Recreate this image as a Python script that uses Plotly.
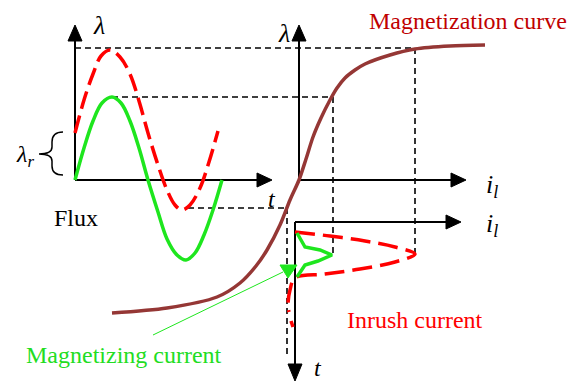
import plotly.graph_objects as go

# the sketch is laid out in picture pixels: x to the right, y downward
W, H = 579, 383

# flux curves (left panel)
flux_x = [75, 84, 93, 102, 112, 121, 130, 139, 148, 158, 167, 177, 186, 195, 204, 213, 222]
flux_y = [180, 148, 121, 103, 97, 103, 121, 148, 180, 212, 239, 255, 260, 253, 235, 210, 180]
inrush_flux_x = [75, 84, 93, 101, 110, 120, 130, 139, 148, 158, 167, 175, 182, 190, 200, 209, 218]
inrush_flux_y = [133, 100, 74, 56, 50, 57, 74, 101, 133, 165, 190, 205, 210, 205, 188, 162, 131]

# magnetization curve (lambda vs i)
mag_x = [112, 167, 217, 240, 256, 267, 280, 290, 299, 306, 313, 321, 330, 337, 345, 355, 365, 390, 415, 450, 485]
mag_y = [313, 308, 297, 283, 266, 250, 225, 200, 180, 159, 137, 118, 100, 88, 78, 70, 64, 55, 49, 46, 45]

# currents (lower panel, time runs downward)
inrush_x = [295, 330, 365, 395, 415, 395, 360, 325, 295, 290, 288, 289]
inrush_y = [232, 236, 241, 247, 254, 262, 269, 274, 278, 290, 305, 312]
inrush_tail_x = [291, 293]
inrush_tail_y = [321, 327]
magn_x = [297, 305, 320, 332, 318, 305, 297]
magn_y = [233, 247, 250, 255, 261, 265, 277]

BLACK = "black"
RED = "#FF0000"
GREEN = "#1EE61E"
BROWN = "#953735"
SERIF = "Liberation Serif"

fig = go.Figure()

fig.add_trace(go.Scatter(x=mag_x, y=mag_y, mode="lines", line=dict(color=BROWN, width=3.5, shape="spline", smoothing=0.8)))
fig.add_trace(go.Scatter(x=flux_x, y=flux_y, mode="lines", line=dict(color=GREEN, width=3.5, shape="spline")))
fig.add_trace(go.Scatter(x=inrush_flux_x, y=inrush_flux_y, mode="lines",
                         line=dict(color=RED, width=3.5, shape="spline", dash="18px,7px")))
fig.add_trace(go.Scatter(x=inrush_x, y=inrush_y, mode="lines",
                         line=dict(color=RED, width=3.5, shape="spline", dash="20px,8px")))
fig.add_trace(go.Scatter(x=inrush_tail_x, y=inrush_tail_y, mode="lines", line=dict(color=RED, width=3.5)))
fig.add_trace(go.Scatter(x=magn_x, y=magn_y, mode="lines", line=dict(color=GREEN, width=3.5)))

shapes = []

def seg(x0, y0, x1, y1, color=BLACK, width=2, dash="solid"):
    shapes.append(dict(type="line", x0=x0, y0=y0, x1=x1, y1=y1, layer="below",
                       line=dict(color=color, width=width, dash=dash)))

def tri(pts, color=BLACK):
    p = "M " + " L ".join(f"{a} {b}" for a, b in pts) + " Z"
    shapes.append(dict(type="path", path=p, fillcolor=color, line=dict(color=color, width=1)))

# axes
seg(75, 180, 75, 40)
seg(75, 180, 258, 180)
tri([(75, 25), (68, 41), (82, 41)])
tri([(272, 180), (257, 173), (257, 187)])

seg(299, 182, 299, 40)
seg(298, 180, 452, 180)
tri([(299, 25), (292, 41), (306, 41)])
tri([(466, 180), (451, 173), (451, 187)])

seg(295, 222, 448, 222)
seg(295, 222, 295, 364)
tri([(461, 222), (446, 215), (446, 229)])
tri([(295, 381), (288, 364), (302, 364)])

# projection lines
dsh = "6px,4px"
seg(75, 48, 415, 48, width=1.6, dash=dsh)
seg(112, 97, 333, 97, width=1.6, dash=dsh)
seg(333, 97, 333, 256, width=1.6, dash=dsh)
seg(415, 48, 415, 253, width=1.6, dash=dsh)
seg(188, 208, 287, 208, width=1.6, dash=dsh)
seg(287, 208, 287, 356, width=1.6, dash=dsh)

# pointer for the magnetizing current
seg(283, 272, 153, 335, color=GREEN, width=1)
tri([(280, 265), (297, 265), (288, 278)], color=GREEN)

# brace for lambda_r
shapes.append(dict(type="path",
                   path="M 63 132 Q 52 132 52 142 L 52 147 Q 52 154 39 154 Q 52 154 52 161 L 52 166 Q 52 175 63 175",
                   line=dict(color=BLACK, width=1.5)))

def label(x, y, text, size=20, color=BLACK):
    fig.add_annotation(x=x, y=y, text=text, showarrow=False, xanchor="center", yanchor="middle",
                       font=dict(family=SERIF, size=size, color=color))

label(99, 25, "<i>λ</i>", 26)
label(284, 33, "<i>λ</i>", 26)
label(25, 156, "<i>λ<sub>r</sub></i>", 24)
label(272, 199, "<i>t</i>", 24)
label(318, 368, "<i>t</i>", 24)
label(492, 186, "<i>i<sub>l</sub></i>", 26)
label(492, 225, "<i>i<sub>l</sub></i>", 26)
label(76, 218, "Flux", 24)
label(468, 21, "Magnetization curve", 24, "#C00000")
label(415, 320, "Inrush current", 24, RED)
label(124, 355, "Magnetizing current", 24, "#22DD22")

fig.update_layout(
    width=W, height=H,
    margin=dict(l=0, r=0, t=0, b=0),
    showlegend=False,
    plot_bgcolor="white", paper_bgcolor="white",
    shapes=shapes,
    xaxis=dict(range=[0, W], visible=False, fixedrange=True),
    yaxis=dict(range=[H, 0], visible=False, fixedrange=True),
)

fig.write_html("out.html", config={"displayModeBar": False},
               post_script="document.body.style.margin='0';")
